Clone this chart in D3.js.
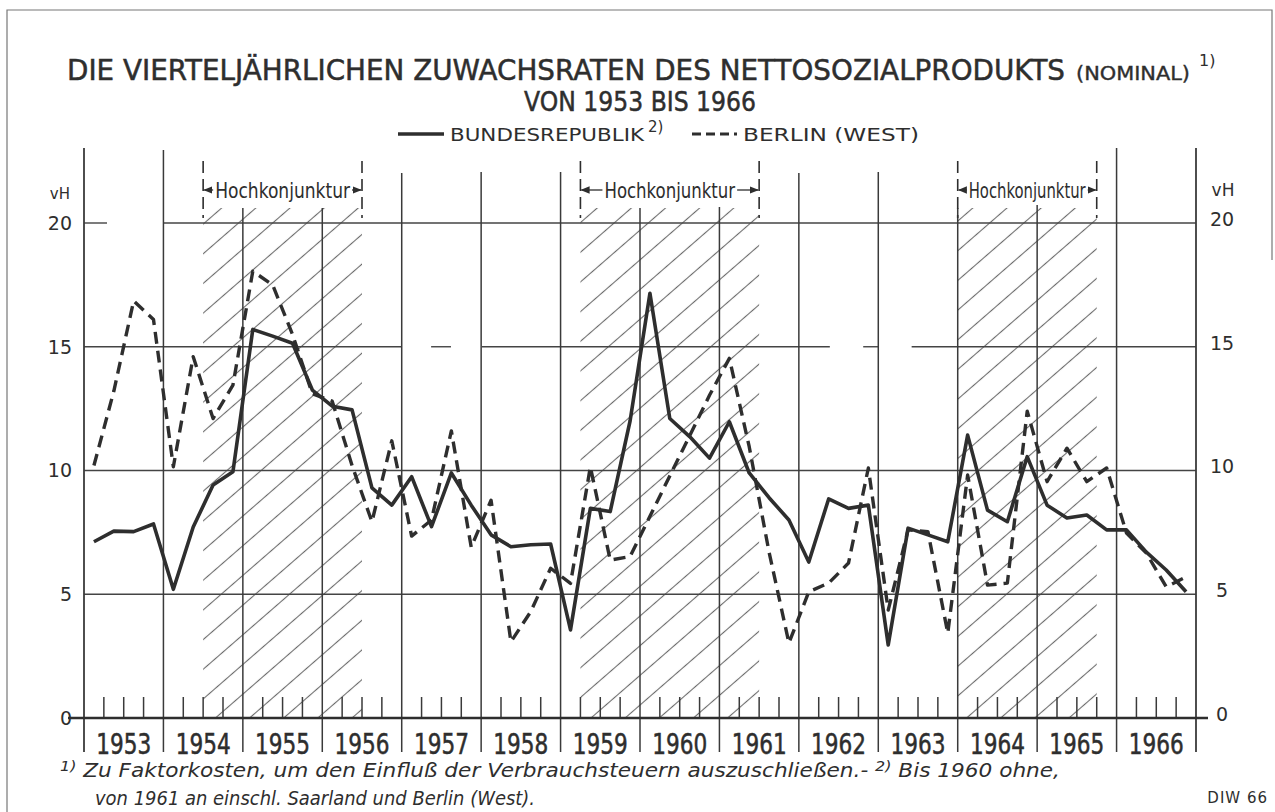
<!DOCTYPE html>
<html>
<head>
<meta charset="utf-8">
<script src="https://cdn.jsdelivr.net/npm/d3@7"></script>
<style>
  body { margin: 0; background: #fff; }
  svg { display: block; }
</style>
</head>
<body>
<script>
// Quartalswerte, 1953 Q1 .. 1966 Q4 (vH)
const years = d3.range(1953, 1967);
const bundesrepublik = [
    7.12, 7.55, 7.53, 7.84,
    5.2, 7.72, 9.41, 9.95,
    15.7, 15.43, 15.14, 13.25,
    12.6, 12.45, 9.3, 8.6,
    9.75, 7.73, 9.9, 8.6,
    7.4, 6.92, 7.0, 7.03,
    3.56, 8.47, 8.34, 12.0,
    17.16, 12.1, 11.37, 10.5,
    11.97, 9.9, 8.9, 8.0,
    6.3, 8.85, 8.47, 8.6,
    2.95, 7.67, 7.4, 7.12,
    11.43, 8.4, 7.93, 10.56,
    8.6, 8.08, 8.2, 7.6,
    7.6, 6.7, 5.98, 5.1
];
const berlin = [
    10.2, 13.2, 16.85, 16.1,
    10.15, 14.6, 12.1, 13.45,
    18.05, 17.5, 15.5, 13.1,
    12.8, 10.2, 7.93, 11.2,
    7.35, 8.0, 11.6, 6.9,
    8.8, 3.08, 4.3, 6.05,
    5.44, 10.15, 6.38, 6.52,
    8.15, 9.78, 11.4, 13.04,
    14.53, 10.96, 6.7, 3.03,
    5.1, 5.45, 6.26, 10.1,
    4.36, 7.6, 7.53, 3.43,
    9.82, 5.37, 5.45, 12.4,
    9.55, 10.9, 9.55, 10.1,
    7.47, 6.66, 5.3, 5.7
];
const yTicks = [0, 5, 10, 15, 20];
// Hochkonjunktur-Phasen (Jahr als Dezimalzahl)
const hochStart = [1954.5, 1959.25, 1964.0];
const hochEnd = [1956.5, 1961.5, 1965.75];
// Luecken in den Gitterlinien (Jahr als Dezimalzahl)
const gridGaps = [
    { v: 20, from: 1953.29, to: 1954.0 },
    { v: 15, from: 1957.0, to: 1957.37 },
    { v: 15, from: 1957.62, to: 1958.01 },
    { v: 15, from: 1962.39, to: 1962.81 },
    { v: 15, from: 1963.0, to: 1963.42 }
];

const W = 1275, H = 812;
const ink = "#2e2e2e";
const svg = d3.select("body").append("svg").attr("width", W).attr("height", H);

const x = d3.scaleLinear().domain([1953, 1967]).range([84, 1196]);
const xYear = d3.scaleBand().domain(years).range([84, 1196]);
const y = d3.scaleLinear().domain([0, 20]).range([718, 223]);
const qx = i => x(1953 + (i + 0.5) / 4);

// Rahmen
svg.append("path").attr("d", `M7,${H} L7,10 L1272,10 L1272,260`)
    .attr("fill", "none").attr("stroke", "#777").attr("stroke-width", 1.2);

// Titel
const titleFont = "DejaVu Sans";
svg.append("text").attr("x", 67).attr("y", 80)
    .attr("font-family", titleFont).attr("font-size", 28).attr("fill", ink)
    .attr("stroke", ink).attr("stroke-width", 0.5)
    .attr("textLength", 998).attr("lengthAdjust", "spacingAndGlyphs")
    .text("DIE VIERTELJÄHRLICHEN ZUWACHSRATEN DES NETTOSOZIALPRODUKTS");
svg.append("text").attr("x", 1076).attr("y", 80)
    .attr("font-family", titleFont).attr("font-size", 20).attr("fill", ink)
    .attr("stroke", ink).attr("stroke-width", 0.4)
    .attr("textLength", 114).attr("lengthAdjust", "spacingAndGlyphs")
    .text("(NOMINAL)");
svg.append("text").attr("x", 1199).attr("y", 66)
    .attr("font-family", titleFont).attr("font-size", 16).attr("fill", ink)
    .text("1)");
svg.append("text").attr("x", 640).attr("y", 111).attr("text-anchor", "middle")
    .attr("font-family", titleFont).attr("font-size", 27).attr("fill", ink)
    .attr("stroke", ink).attr("stroke-width", 0.5)
    .attr("textLength", 232).attr("lengthAdjust", "spacingAndGlyphs")
    .text("VON 1953 BIS 1966");

// Legende
const legY = 134;
svg.append("line").attr("x1", 398).attr("x2", 444).attr("y1", legY).attr("y2", legY)
    .attr("stroke", ink).attr("stroke-width", 3.5);
svg.append("text").attr("x", 450).attr("y", legY + 6.5)
    .attr("font-family", titleFont).attr("font-size", 18).attr("fill", ink)
    .attr("textLength", 194).attr("lengthAdjust", "spacingAndGlyphs")
    .text("BUNDESREPUBLIK");
svg.append("text").attr("x", 648).attr("y", legY - 2)
    .attr("font-family", titleFont).attr("font-size", 15).attr("fill", ink)
    .text("2)");
svg.append("line").attr("x1", 692).attr("x2", 737).attr("y1", legY).attr("y2", legY)
    .attr("stroke", ink).attr("stroke-width", 3).attr("stroke-dasharray", "9,5");
svg.append("text").attr("x", 743).attr("y", legY + 6.5)
    .attr("font-family", titleFont).attr("font-size", 18).attr("fill", ink)
    .attr("textLength", 176).attr("lengthAdjust", "spacingAndGlyphs")
    .text("BERLIN (WEST)");

// Schraffur
const defs = svg.append("defs");
const pat = defs.append("pattern").attr("id", "hatch")
    .attr("patternUnits", "userSpaceOnUse").attr("width", 22.4).attr("height", 22.4)
    .attr("patternTransform", "rotate(-41)");
pat.append("line").attr("x1", 0).attr("x2", 22.4).attr("y1", 11.2).attr("y2", 11.2)
    .attr("stroke", "#6a6a6a").attr("stroke-width", 1.1);

const hatchTop = y(20) - 15;
hochStart.forEach((s, i) => {
    svg.append("rect").attr("x", x(s)).attr("y", hatchTop)
        .attr("width", x(hochEnd[i]) - x(s)).attr("height", y(0) - hatchTop)
        .attr("fill", "url(#hatch)");
});

// horizontale Gitterlinien
yTicks.filter(v => v > 0).forEach(v => {
    const gaps = gridGaps.filter(g => g.v === v).sort((a, b) => a.from - b.from);
    let start = 1953;
    const segs = [];
    gaps.forEach(g => { segs.push([start, g.from]); start = g.to; });
    segs.push([start, 1967]);
    segs.forEach(sg => {
        svg.append("line").attr("x1", x(sg[0])).attr("x2", x(sg[1]))
            .attr("y1", y(v)).attr("y2", y(v))
            .attr("stroke", "#444").attr("stroke-width", 1.4);
    });
});

// vertikale Jahreslinien
const lineTops = [148, 150, 208, 208, 173, 172, 172, 208, 207, 173, 172, 208, 205, 148, 148];
d3.range(0, 15).forEach(k => {
    svg.append("line").attr("x1", x(1953 + k)).attr("x2", x(1953 + k))
        .attr("y1", lineTops[k]).attr("y2", y(0) + 34)
        .attr("stroke", "#3a3a3a").attr("stroke-width", k === 0 || k === 14 ? 1.8 : 1.5);
});

// Quartalsstriche
years.forEach(yr => {
    [0.25, 0.5, 0.75].forEach(q => {
        svg.append("line").attr("x1", x(yr + q)).attr("x2", x(yr + q))
            .attr("y1", y(0) - 21).attr("y2", y(0))
            .attr("stroke", "#3a3a3a").attr("stroke-width", 1.5);
    });
});

// Nulllinie
svg.append("line").attr("x1", 68).attr("x2", 1208).attr("y1", y(0)).attr("y2", y(0))
    .attr("stroke", ink).attr("stroke-width", 2.6);

// Achsenbeschriftung links / rechts
const axL = svg.append("g").attr("transform", "translate(72,0)")
    .call(d3.axisLeft(y).tickValues(yTicks).tickSize(0).tickPadding(0));
axL.select(".domain").remove();
axL.selectAll("text").attr("font-family", "DejaVu Sans").attr("font-size", 19)
    .attr("fill", ink).attr("dy", "0.34em");
const axR = svg.append("g").attr("transform", "translate(1222,-4)")
    .call(d3.axisRight(y).tickValues(yTicks).tickSize(0).tickPadding(0));
axR.select(".domain").remove();
axR.selectAll("text").attr("font-family", "DejaVu Sans").attr("font-size", 19)
    .attr("fill", ink).attr("text-anchor", "middle").attr("dy", "0.34em");

svg.append("text").attr("x", 70).attr("y", 199).attr("text-anchor", "end")
    .attr("font-family", "DejaVu Sans").attr("font-size", 15).attr("fill", ink).text("vH");
svg.append("text").attr("x", 1223).attr("y", 196).attr("text-anchor", "middle")
    .attr("font-family", "DejaVu Sans").attr("font-size", 17).attr("fill", ink).text("vH");

// Jahreszahlen
const axB = svg.append("g").attr("transform", `translate(0,${y(0)})`)
    .call(d3.axisBottom(xYear).tickSize(0).tickPadding(0));
axB.select(".domain").remove();
axB.selectAll("text").attr("font-family", "Liberation Sans Narrow, DejaVu Sans Condensed, sans-serif")
    .attr("font-size", 29).attr("fill", ink).attr("y", 36).attr("dy", 0)
    .attr("stroke", ink).attr("stroke-width", 0.5)
    .attr("textLength", 55).attr("lengthAdjust", "spacingAndGlyphs");

// Hochkonjunktur-Markierungen
defs.append("marker").attr("id", "arr").attr("viewBox", "0 0 10 10")
    .attr("refX", 9).attr("refY", 5).attr("markerWidth", 7).attr("markerHeight", 7)
    .attr("orient", "auto-start-reverse")
    .append("path").attr("d", "M0,1 L10,5 L0,9 z").attr("fill", ink);
const arrowPad = [12, 24, 11];
const labY = 191;
hochStart.forEach((s, i) => {
    const x0 = x(s), x1 = x(hochEnd[i]);
    [x0, x1].forEach(xx => {
        svg.append("line").attr("x1", xx).attr("x2", xx).attr("y1", 161).attr("y2", 218)
            .attr("stroke", ink).attr("stroke-width", 1.6).attr("stroke-dasharray", "12,6");
    });
    const p = arrowPad[i];
    svg.append("line").attr("x1", x0 + p - 2).attr("x2", x0 + 1).attr("y1", labY - 1).attr("y2", labY - 1)
        .attr("stroke", ink).attr("stroke-width", 1.3).attr("marker-end", "url(#arr)");
    svg.append("line").attr("x1", x1 - p + 2).attr("x2", x1 - 1).attr("y1", labY - 1).attr("y2", labY - 1)
        .attr("stroke", ink).attr("stroke-width", 1.3).attr("marker-end", "url(#arr)");
    svg.append("text").attr("x", x0 + p).attr("y", labY + 7)
        .attr("font-family", "Liberation Sans Narrow, DejaVu Sans Condensed, sans-serif")
        .attr("font-size", 22).attr("fill", ink)
        .attr("textLength", x1 - x0 - 2 * p).attr("lengthAdjust", "spacingAndGlyphs")
        .text("Hochkonjunktur");
});

// Kurven
const line = d3.line().x((d, i) => qx(i)).y(d => y(d));
svg.append("path").datum(berlin).attr("d", line).attr("fill", "none")
    .attr("stroke", ink).attr("stroke-width", 3.4).attr("stroke-dasharray", "12,7")
    .attr("stroke-linejoin", "round");
svg.append("path").datum(bundesrepublik).attr("d", line).attr("fill", "none")
    .attr("stroke", ink).attr("stroke-width", 3.6).attr("stroke-linejoin", "round");

// Fussnoten
const foot = svg.append("text").attr("x", 60).attr("y", 777)
    .attr("font-family", "DejaVu Sans").attr("font-style", "italic")
    .attr("font-size", 19).attr("fill", ink)
    .attr("textLength", 1000).attr("lengthAdjust", "spacingAndGlyphs");
foot.append("tspan").attr("font-size", 14).attr("dy", -6).text("1)");
foot.append("tspan").attr("dy", 6).text(" Zu Faktorkosten, um den Einfluß der Verbrauchsteuern auszuschließen.- ");
foot.append("tspan").attr("font-size", 14).attr("dy", -6).text("2)");
foot.append("tspan").attr("dy", 6).text(" Bis 1960 ohne,");
svg.append("text").attr("x", 95).attr("y", 805)
    .attr("font-family", "DejaVu Sans").attr("font-style", "italic")
    .attr("font-size", 19).attr("fill", ink)
    .attr("textLength", 440).attr("lengthAdjust", "spacingAndGlyphs")
    .text("von 1961 an einschl. Saarland und Berlin (West).");
svg.append("text").attr("x", 1268).attr("y", 803).attr("text-anchor", "end")
    .attr("font-family", "DejaVu Sans").attr("font-size", 15).attr("fill", ink)
    .attr("letter-spacing", 1).text("DIW 66");
</script>
</body>
</html>
